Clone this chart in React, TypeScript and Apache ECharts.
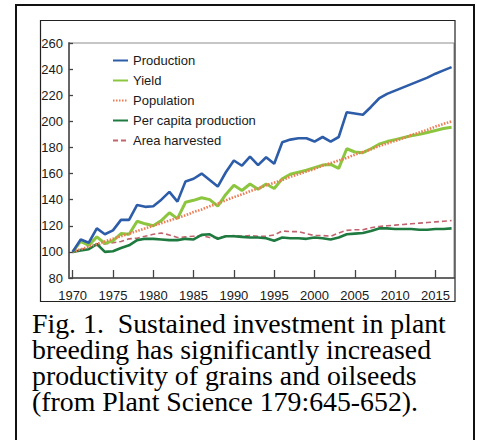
import React, { useEffect, useRef } from "react";
import * as echarts from "echarts";

const years = [
  1970, 1971, 1972, 1973, 1974, 1975, 1976, 1977, 1978, 1979,
  1980, 1981, 1982, 1983, 1984, 1985, 1986, 1987, 1988, 1989,
  1990, 1991, 1992, 1993, 1994, 1995, 1996, 1997, 1998, 1999,
  2000, 2001, 2002, 2003, 2004, 2005, 2006, 2007, 2008, 2009,
  2010, 2011, 2012, 2013, 2014, 2015, 2016, 2017,
];

const production = [
  100, 109.5, 107, 118, 113.5, 116.5, 124.5, 124.5, 136, 134.5,
  135, 140, 146, 138.5, 154, 156, 160, 155, 150, 161,
  170, 166, 173, 166.5, 172.5, 167.5, 184, 186, 187, 187,
  184.5, 188, 184.5, 188, 207, 206, 205, 211, 217.5, 221,
  223.5, 226, 228.5, 231, 233.5, 236.5, 239, 241.5,
];

const yieldIdx = [
  100, 108, 105, 111.5, 106.5, 108.5, 114, 113.5, 123.5, 121.5,
  120, 124, 130, 125.5, 138, 139.5, 141.5, 140, 135, 144,
  151, 147, 152, 148, 152, 148.5, 156, 159.5, 161, 162.5,
  164.5, 166.5, 167, 164, 179, 176.5, 176, 179, 182.5, 184.5,
  186, 187.5, 189, 190, 191.5, 193, 194.5, 195.5,
];

const population = [
  100, 102, 104, 106, 108, 110, 112, 114, 116, 118,
  120, 122, 124, 126, 128, 130.5, 132.5, 135, 137, 139.5,
  142, 144, 146.5, 148.5, 151, 153, 155, 157.5, 159.5, 161.5,
  163.5, 166, 168, 170, 172, 174.5, 176.5, 178.5, 181, 183,
  185, 187, 189.5, 191.5, 193.5, 196, 198, 200,
];

const perCapita = [
  100, 101, 102, 106, 100, 100.5, 103, 105, 109, 110,
  110, 109.5, 109, 109, 110, 109.5, 113, 113.5, 110, 112,
  112, 111.5, 111, 111, 110.5, 108.5, 111, 110.5, 110.5, 110,
  111, 110.5, 109.5, 111, 113.5, 114, 114.5, 116, 118, 118,
  117.5, 117.5, 117.5, 117, 117, 117.5, 117.5, 118,
];

const areaHarvested = [
  100, 102, 102.5, 105, 106, 107, 108, 110, 110.5, 112,
  113.5, 114.5, 113, 111, 111.5, 112, 112.5, 111, 111, 112,
  112.5, 112, 112.5, 112, 112, 113, 116, 115.5, 115.5, 114,
  112.5, 112.5, 112, 114.5, 116.5, 117, 117, 118.5, 119.5, 120,
  120.5, 121, 121.5, 122, 122.5, 123, 123.5, 124,
];

const xTicks = [1970, 1975, 1980, 1985, 1990, 1995, 2000, 2005, 2010, 2015];

const seriesNames = [
  "Production",
  "Yield",
  "Population",
  "Per capita production",
  "Area harvested",
];

const captionLines = [
  "Fig. 1.  Sustained investment in plant",
  "breeding has significantly increased",
  "productivity of grains and oilseeds",
  "(from Plant Science 179:645-652).",
];

const pair = (vals: number[]) => years.map((y, i) => [y, vals[i]]);

export default function App() {
  const ref = useRef<HTMLDivElement>(null);

  useEffect(() => {
    if (!ref.current) return;
    const chart = echarts.init(ref.current, null, { renderer: "svg" });
    const sans = "Liberation Sans, Arial, sans-serif";
    const serif = "Liberation Serif, Times New Roman, serif";

    const lineSeries = (
      name: string,
      vals: number[],
      color: string,
      width: number,
      type: any,
      z: number
    ) => ({
      name,
      type: "line",
      data: pair(vals),
      showSymbol: false,
      symbol: "none",
      z,
      lineStyle: { color, width, type },
      itemStyle: { color },
    });

    chart.setOption({
      animation: false,
      backgroundColor: "#ffffff",
      grid: {
        left: 69,
        top: 43,
        width: 385,
        height: 235,
        show: true,
        borderColor: "#8c8c8c",
        borderWidth: 1,
        containLabel: false,
      },
      legend: {
        orient: "vertical",
        left: 112,
        top: 54,
        itemWidth: 15,
        itemHeight: 12,
        itemGap: 7,
        padding: 0,
        data: seriesNames,
        itemStyle: { opacity: 0, borderWidth: 0 },
        textStyle: { fontFamily: sans, fontSize: 13, color: "#1a1a1a" },
      },
      xAxis: {
        type: "value",
        min: 1969.55,
        max: 2017.3,
        axisLine: { show: true, lineStyle: { color: "#666", width: 2 } },
        axisTick: {
          show: true,
          inside: true,
          length: 8,
          customValues: xTicks,
          lineStyle: { color: "#444", width: 1.3 },
        },
        axisLabel: {
          customValues: xTicks,
          formatter: (v: number) => String(Math.round(v)),
          fontFamily: sans,
          fontSize: 13,
          color: "#1a1a1a",
          margin: 11,
        },
        splitLine: { show: false },
      },
      yAxis: {
        type: "value",
        min: 80,
        max: 260,
        interval: 20,
        axisLine: { show: true, lineStyle: { color: "#666", width: 2 } },
        axisTick: {
          show: true,
          inside: true,
          length: 4,
          lineStyle: { color: "#444", width: 1.3 },
        },
        axisLabel: {
          fontFamily: sans,
          fontSize: 13,
          color: "#1a1a1a",
          margin: 6,
        },
        splitLine: { show: false },
      },
      series: [
        lineSeries(seriesNames[4], areaHarvested, "#c2636d", 1.6, [5, 3], 2),
        lineSeries(seriesNames[3], perCapita, "#1f7a40", 2.6, "solid", 3),
        lineSeries(seriesNames[1], yieldIdx, "#8cc63f", 3, "solid", 4),
        lineSeries(seriesNames[2], population, "#ee7a52", 2.6, [1.5, 1.5], 5),
        lineSeries(seriesNames[0], production, "#2d5da8", 2.6, "solid", 6),
      ],
      graphic: [
        {
          type: "rect",
          z: 100,
          shape: { x: 16, y: 5, width: 458, height: 460 },
          style: { fill: "none", stroke: "#111", lineWidth: 2 },
        },
        {
          type: "rect",
          z: 100,
          shape: { x: 40.5, y: 20.5, width: 414.5, height: 281 },
          style: { fill: "none", stroke: "#222", lineWidth: 1.2 },
        },
        {
          type: "text",
          z: 100,
          x: 32,
          y: 310.5,
          style: {
            text: captionLines.join("\n"),
            fontFamily: serif,
            fontSize: 27.8,
            lineHeight: 26,
            fill: "#000",
            align: "left",
            verticalAlign: "top",
          },
        },
      ],
    });

    return () => chart.dispose();
  }, []);

  return (
    <div
      ref={ref}
      style={{ position: "absolute", left: 0, top: 0, width: 477, height: 440 }}
    />
  );
}
